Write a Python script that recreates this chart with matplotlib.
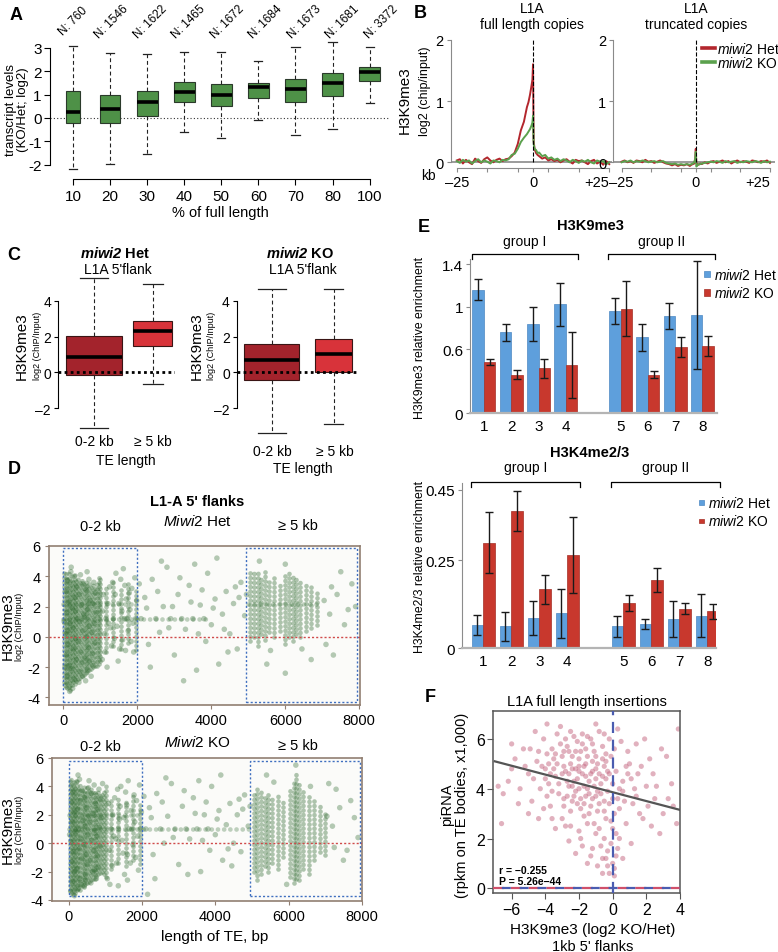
import numpy as np
import matplotlib
matplotlib.use("Agg")
import matplotlib.pyplot as plt
from matplotlib.lines import Line2D
from matplotlib.patches import Rectangle

plt.rcParams["font.family"] = ["Liberation Sans", "DejaVu Sans"]
plt.rcParams["mathtext.fontset"] = "custom"
plt.rcParams["mathtext.rm"] = "Liberation Sans"
plt.rcParams["mathtext.it"] = "Liberation Sans:italic"
plt.rcParams["mathtext.bf"] = "Liberation Sans:bold"
plt.rcParams["mathtext.bfit"] = "Liberation Sans:italic:bold"

# ---------------- data ----------------
# A: transcript levels by % of full length
a_len = ["10", "20", "30", "40", "50", "60", "70", "80", "100"]
a_n = [760, 1546, 1622, 1465, 1672, 1684, 1673, 1681, 3372]
a_whislo = [-2.2, -1.98, -1.54, -0.6, -0.87, -0.07, -0.72, -0.45, 0.65]
a_q1 = [-0.21, -0.2, 0.07, 0.67, 0.5, 0.86, 0.69, 0.94, 1.56]
a_med = [0.24, 0.38, 0.67, 1.13, 1.0, 1.32, 1.25, 1.5, 1.95]
a_q3 = [1.14, 1.0, 1.14, 1.55, 1.45, 1.5, 1.65, 1.92, 2.2]
a_whishi = [3.09, 2.78, 2.75, 2.83, 2.84, 2.42, 3.03, 3.27, 3.02]

# B: H3K9me3 profiles around L1A (kb)
b_kb = [-25, -24, -23, -22, -21, -20, -19, -18, -17, -16, -15, -14, -13, -12, -11, -10, -9, -8, -7, -6,
        -5, -4, -3, -2, -1.5, -1, -0.5, -0.2, 0, 0.2, 0.5, 1, 1.5, 2, 3, 4, 5,
        6, 7, 8, 9, 10, 11, 12, 13, 14, 15, 16, 17, 18, 19, 20, 21, 22, 23, 24, 25]
b_full_het = [0.03, 0.05, -0.02, 0.04, 0.00, -0.03, 0.06, 0.02, -0.01, 0.05, 0.08, 0.03, 0.00, 0.04, 0.06, 0.02, 0.05, 0.06, 0.10, 0.16,
              0.30, 0.52, 0.66, 0.90, 0.98, 1.10, 1.25, 1.35, 1.60, 0.35, 0.22, 0.15, 0.12, 0.10, 0.06, 0.08, 0.03,
              0.05, 0.02, 0.04, 0.00, 0.03, 0.05, 0.01, -0.02, 0.04, 0.02, 0.03, 0.00, -0.03, 0.02, 0.04, -0.02, 0.01, -0.04, 0.02, -0.03]
b_full_ko = [0.02, -0.01, 0.04, 0.01, 0.03, -0.02, 0.02, 0.05, 0.00, 0.03, 0.01, -0.02, 0.03, 0.02, 0.00, 0.04, 0.03, 0.05, 0.12, 0.14,
             0.22, 0.33, 0.40, 0.46, 0.50, 0.54, 0.60, 0.65, 0.76, 0.30, 0.22, 0.20, 0.15, 0.16, 0.10, 0.12, 0.06,
             0.08, 0.04, 0.06, 0.02, 0.05, 0.03, 0.00, 0.04, 0.02, -0.01, 0.03, 0.01, 0.04, 0.00, -0.02, 0.03, 0.01, 0.02, -0.03, 0.00]
b_trunc_het = [0.01, 0.03, 0.00, 0.02, -0.01, 0.03, 0.02, 0.00, 0.04, 0.01, 0.02, -0.01, 0.01, 0.03, 0.00, -0.02, -0.03, -0.05, -0.03, -0.06,
               -0.04, -0.05, -0.03, -0.06, -0.04, -0.03, -0.02, 0.05, 0.22, -0.02, -0.03, -0.04, -0.02, -0.03, 0.00, -0.02, 0.01,
               0.02, -0.01, 0.01, 0.03, 0.00, 0.02, -0.02, 0.01, 0.03, 0.00, 0.02, 0.01, -0.01, 0.03, 0.02, 0.00, 0.02, 0.01, 0.03, -0.01]
b_trunc_ko = [0.00, 0.02, 0.01, 0.03, 0.00, 0.02, 0.01, 0.03, 0.02, 0.00, 0.01, 0.02, 0.00, 0.01, 0.02, -0.01, -0.02, -0.03, -0.02, -0.04,
              -0.03, -0.04, -0.03, -0.04, -0.03, -0.02, 0.00, 0.06, 0.17, -0.07, -0.05, -0.03, -0.03, -0.02, -0.01, 0.00, 0.01,
              0.00, 0.02, 0.01, -0.01, 0.02, 0.00, 0.01, 0.02, -0.01, 0.01, 0.00, 0.02, 0.01, 0.00, 0.02, 0.01, -0.01, 0.02, 0.00, 0.01]

# C: H3K9me3 at L1A 5' flanks by TE length
c_groups = ["0-2 kb", "\u2265 5 kb"]
c_het = dict(whislo=[-3.1, -0.63], q1=[-0.15, 1.46], med=[0.87, 2.29], q3=[2.05, 2.9], whishi=[5.25, 4.93])
c_ko = dict(whislo=[-3.4, -2.87], q1=[-0.43, 0.0], med=[0.69, 1.0], q3=[1.58, 1.86], whishi=[4.65, 4.65])

# D: H3K9me3 vs TE length (kb); scattered points
d_het_pts = [
    (0.05, -3.2), (0.10, -2.6), (0.15, -1.9), (0.08, -1.2), (0.12, -0.5), (0.06, 0.2), (0.18, 0.9), (0.09, 1.6), (0.14, 2.3), (0.07, 3.0), (0.11, 3.7), (0.20, 4.3),
    (0.25, -3.4), (0.30, -2.8), (0.22, -2.1), (0.35, -1.5), (0.28, -0.8), (0.33, -0.1), (0.26, 0.6), (0.38, 1.2), (0.24, 1.9), (0.31, 2.6), (0.36, 3.3), (0.29, 4.0),
    (0.42, -3.0), (0.45, -2.3), (0.50, -1.7), (0.47, -1.0), (0.41, -0.3), (0.52, 0.4), (0.44, 1.0), (0.55, 1.5), (0.48, 2.1), (0.43, 2.8), (0.53, 3.5), (0.46, 4.1),
    (0.60, -2.9), (0.65, -2.2), (0.58, -1.4), (0.68, -0.7), (0.62, 0.0), (0.70, 0.7), (0.57, 1.3), (0.66, 1.8), (0.72, 2.4), (0.61, 3.1), (0.69, 3.8),
    (0.75, -2.6), (0.80, -1.9), (0.78, -1.1), (0.85, -0.4), (0.77, 0.3), (0.83, 0.9), (0.88, 1.6), (0.79, 2.2), (0.86, 2.9), (0.82, 3.6),
    (0.17, -3.6), (0.02, 1.0), (0.04, -2.0), (0.33, 1.7), (0.52, -2.6), (0.70, -1.6), (0.12, 0.4), (0.21, 4.6), (0.64, 4.3),
    (1.05, -1.5), (1.10, 0.2), (1.15, 1.2), (1.20, 2.2), (1.25, 3.3), (1.30, -0.6), (1.35, 1.2), (1.40, 2.8), (1.45, 0.7), (1.50, 2.2),
    (1.55, 3.8), (1.60, -0.2), (1.65, 1.2), (1.70, 2.5), (1.75, 0.4), (1.80, 1.8), (1.85, 3.2), (1.90, -1.0), (1.95, 1.2), (1.98, 2.4),
    (1.12, -1.0), (1.28, 0.6), (1.52, -0.8), (1.72, 1.2), (1.88, 0.9), (1.42, 4.2), (1.62, 4.5), (1.08, 2.8), (1.18, -2.0), (1.33, 3.6),
    (1.48, -1.6), (1.58, 1.7), (1.68, -0.9), (1.78, 2.9), (1.93, 3.9), (1.22, 0.9), (1.38, -0.1), (1.83, -0.3), (1.66, 3.4), (1.06, 1.7),
    (2.1, 1.2), (2.2, 2.6), (2.3, -0.5), (2.4, 3.8), (2.5, 1.2), (2.6, 0.3), (2.7, 2.0), (2.8, 4.6), (2.9, 1.2), (3.0, -1.2),
    (3.1, 2.8), (3.2, 1.2), (3.3, 0.5), (3.4, 3.4), (3.5, 1.2), (3.6, -2.2), (3.7, 2.1), (3.8, 1.2), (3.9, 4.2), (4.0, 0.8),
    (4.1, 2.5), (4.2, -1.8), (4.3, 1.5), (4.4, 3.0), (4.5, 0.2), (4.6, 2.2), (4.7, -0.8), (4.8, 3.6), (4.9, 1.4), (2.35, -2.0),
    (2.65, 5.0), (3.25, -2.9), (3.55, 4.8), (4.15, 5.2), (4.45, -1.0), (2.05, 3.5), (3.85, -0.3), (4.75, 2.6), (2.95, 2.0), (3.65, 0.2),
    (2.25, 1.9), (2.55, 3.0), (2.85, 0.6), (3.15, 3.9), (3.45, 2.3), (3.75, 3.1), (4.05, 1.9), (4.35, 0.5), (4.65, 3.3), (4.95, 2.8),
    (5.50, -1.8), (6.00, -2.4), (6.70, -1.5), (7.20, 1.5), (7.40, 2.8), (7.60, 0.8), (7.80, 3.5), (7.10, -0.5), (7.50, 4.3),
    (7.90, 2.0), (5.30, 5.0), (6.00, 4.8), (7.30, -1.2), (7.05, 2.4), (7.25, 3.3), (7.70, 1.8), (5.60, -0.9), (6.45, -0.8),
]
d_ko_pts = [
    (0.05, -3.4), (0.10, -2.7), (0.15, -2.0), (0.08, -1.3), (0.12, -0.6), (0.06, 0.1), (0.18, 0.8), (0.09, 1.5), (0.14, 2.2), (0.07, 2.9), (0.11, 3.6), (0.20, 4.3),
    (0.25, -3.2), (0.30, -2.5), (0.22, -1.8), (0.35, -1.1), (0.28, -0.4), (0.33, 0.3), (0.26, 1.0), (0.38, 1.6), (0.24, 2.4), (0.31, 3.0), (0.36, 3.7), (0.29, 4.5),
    (0.42, -3.0), (0.45, -2.2), (0.50, -1.5), (0.47, -0.8), (0.41, -0.1), (0.52, 0.6), (0.44, 1.2), (0.55, 1.9), (0.48, 2.5), (0.43, 3.2), (0.53, 3.9),
    (0.60, -2.8), (0.65, -2.0), (0.58, -1.2), (0.68, -0.5), (0.62, 0.2), (0.70, 0.9), (0.57, 1.5), (0.66, 2.1), (0.72, 2.8), (0.61, 3.5), (0.69, 4.1),
    (0.75, -2.5), (0.80, -1.7), (0.78, -0.9), (0.85, -0.2), (0.77, 0.5), (0.83, 1.1), (0.88, 1.8), (0.79, 2.4), (0.86, 3.1), (0.82, 3.8),
    (0.15, -3.7), (0.02, 0.6), (0.45, -2.6), (0.33, -2.9), (0.70, -1.9), (0.25, 4.8), (0.55, 4.4), (0.92, 4.2),
    (1.05, -2.5), (1.10, -0.5), (1.15, 1.0), (1.20, 2.0), (1.25, 3.2), (1.30, -1.4), (1.35, 1.0), (1.40, 2.6), (1.45, 0.2), (1.50, 1.8),
    (1.55, 3.6), (1.60, -0.8), (1.65, 1.0), (1.70, 2.3), (1.75, -0.1), (1.80, 1.5), (1.85, 3.0), (1.90, -1.9), (1.95, 1.0), (1.98, 2.2),
    (1.12, -2.9), (1.28, 0.3), (1.52, -2.2), (1.72, 1.0), (1.88, 0.5), (1.42, 4.0), (1.62, 4.4), (1.08, 2.8), (1.35, -3.0), (1.60, -2.6),
    (1.18, -1.6), (1.33, 3.8), (1.48, -0.7), (1.58, 2.7), (1.68, -1.4), (1.78, 3.4), (1.93, 4.1), (1.22, 0.5), (1.38, 1.7), (1.83, -1.0),
    (2.1, 1.0), (2.2, 2.5), (2.3, -0.8), (2.4, 3.5), (2.5, 1.0), (2.6, 0.0), (2.7, 1.9), (2.8, 4.2), (2.9, 1.0), (3.0, -1.5),
    (3.1, 2.6), (3.2, 1.0), (3.3, 0.3), (3.4, 3.2), (3.5, 1.0), (3.6, -2.0), (3.7, 2.0), (3.8, 1.0), (3.9, 4.0), (4.0, 0.6),
    (4.1, 2.3), (4.2, -1.2), (4.3, 1.3), (4.4, 2.8), (4.5, 0.0), (4.6, 2.0), (4.7, -0.6), (4.8, 3.4), (4.9, 1.2), (2.35, -2.5),
    (2.65, 4.6), (3.25, -2.2), (3.55, 4.4), (4.15, 4.8), (4.45, -1.6), (2.05, 3.3), (3.85, -0.5), (4.75, 2.4), (2.15, -3.6), (3.65, 0.2),
    (2.25, 1.8), (2.55, 2.9), (2.85, 0.4), (3.15, 3.7), (3.45, 2.1), (3.75, 2.9), (4.05, 1.7), (4.35, -0.4), (4.65, 3.1), (4.95, 2.6),
    (7.20, 1.2), (7.40, 2.5), (7.60, -0.5), (7.80, 1.8), (7.30, 3.8), (7.90, 0.4), (7.50, -1.2), (5.40, 4.8), (6.20, 5.5), (7.10, 4.2),
    (7.05, 1.9), (7.25, -0.3), (7.70, 3.0), (5.60, 4.3), (6.60, 4.0), (5.95, -2.9),
]
# dense vertical columns of points: (length kb, lowest y, highest y)
d_het_columns = [
    (0.02, -3.0, 4.2), (0.06, -3.3, 4.4), (0.10, -3.4, 4.0), (0.14, -3.3, 4.3), (0.18, -3.5, 3.9), (0.22, -3.2, 4.1),
    (0.26, -3.0, 3.8), (0.30, -3.1, 4.2), (0.35, -2.9, 3.7), (0.40, -2.8, 4.0), (0.45, -2.7, 3.6), (0.50, -2.6, 3.9),
    (0.55, -2.5, 3.5), (0.60, -2.4, 3.8), (0.65, -2.3, 3.4), (0.70, -2.2, 3.6), (0.75, -2.1, 3.3), (0.80, -2.0, 3.5),
    (0.85, -1.9, 3.2), (0.90, -1.9, 3.6), (0.95, -1.8, 4.0), (1.00, -1.6, 3.8),
    (1.15, -1.0, 3.4), (1.35, -0.6, 3.6), (1.55, -0.8, 3.2), (1.75, -0.4, 3.5), (1.95, -0.9, 3.0),
    (5.05, -0.3, 4.3), (5.15, 0.0, 4.5), (5.25, -0.6, 4.2), (5.35, 0.2, 4.0), (5.45, -0.2, 4.4), (5.55, 0.3, 3.8),
    (5.70, 0.0, 4.1), (5.85, 0.4, 3.6), (6.00, -0.5, 4.3), (6.10, 0.0, 4.5), (6.20, -0.3, 4.2), (6.30, 0.2, 4.0),
    (6.40, 0.0, 3.7), (6.55, 0.4, 3.5), (6.70, 0.6, 3.3), (6.85, 0.8, 3.0),
]
d_ko_columns = [
    (0.02, -3.3, 4.4), (0.06, -3.5, 4.6), (0.10, -3.6, 4.3), (0.14, -3.4, 4.5), (0.18, -3.5, 4.1), (0.22, -3.3, 4.4),
    (0.26, -3.2, 4.0), (0.30, -3.3, 4.2), (0.35, -3.0, 3.9), (0.40, -3.1, 4.1), (0.45, -2.9, 3.8), (0.50, -2.8, 4.0),
    (0.55, -2.7, 3.7), (0.60, -2.6, 3.9), (0.65, -2.5, 3.6), (0.70, -2.5, 3.8), (0.75, -2.3, 3.5), (0.80, -2.2, 3.7),
    (0.85, -2.1, 3.4), (0.90, -2.0, 3.6), (0.95, -2.2, 3.9), (1.00, -2.4, 4.1),
    (1.15, -1.8, 3.2), (1.35, -1.4, 3.4), (1.55, -1.6, 3.0), (1.75, -1.2, 3.3), (1.95, -1.5, 2.8),
    (5.05, -2.0, 3.6), (5.15, -2.6, 4.0), (5.25, -2.2, 3.8), (5.35, -1.6, 3.3), (5.45, -2.0, 3.6), (5.55, -1.4, 3.2),
    (5.70, -1.8, 3.4), (5.85, -1.0, 3.0), (6.05, -2.4, 3.8), (6.15, -2.8, 4.3), (6.20, -2.5, 5.0), (6.30, -2.6, 4.2),
    (6.40, -1.8, 3.8), (6.55, -2.2, 3.4), (6.70, -1.2, 3.0), (6.85, -0.6, 2.6), (7.00, -0.8, 2.2),
]
# horizontal rows of points: (y, first kb, last kb)
d_het_rows = [(1.2, 0.0, 4.0), (2.2, 0.0, 2.0), (2.2, 5.0, 7.0)]
d_ko_rows = [(1.0, 0.0, 5.0), (2.0, 0.0, 2.0)]
d_windows_kb = [(0.0, 2.0), (4.95, 7.95)]

# E: ChIP-qPCR relative enrichment
e_sites = ["1", "2", "3", "4", "5", "6", "7", "8"]
e_groups = [("group I", ["1", "2", "3", "4"]), ("group II", ["5", "6", "7", "8"])]
e_k9_het = [1.16, 0.76, 0.84, 1.02, 0.96, 0.71, 0.91, 0.92]
e_k9_het_err = [0.10, 0.08, 0.16, 0.20, 0.12, 0.13, 0.125, 0.51]
e_k9_ko = [0.48, 0.36, 0.42, 0.45, 0.98, 0.36, 0.62, 0.63]
e_k9_ko_err = [0.03, 0.04, 0.09, 0.31, 0.26, 0.03, 0.09, 0.09]
e_k4_het = [0.066, 0.062, 0.086, 0.099, 0.062, 0.069, 0.083, 0.093]
e_k4_het_err = [0.028, 0.04, 0.047, 0.069, 0.029, 0.013, 0.05, 0.06]
e_k4_ko = [0.30, 0.39, 0.167, 0.265, 0.129, 0.194, 0.112, 0.105]
e_k4_ko_err = [0.087, 0.057, 0.04, 0.108, 0.022, 0.034, 0.016, 0.022]

# F: piRNA vs H3K9me3 change, L1A full length insertions
f_pts = [
    (-4.0, 4.8), (-3.5, 5.2), (-3.0, 4.6), (-2.5, 5.0), (-2.0, 4.7), (-1.5, 5.3), (-1.0, 4.4), (-0.5, 4.9), (0.0, 4.2), (-3.8, 4.2),
    (-3.2, 3.8), (-2.7, 4.3), (-2.2, 3.9), (-1.7, 4.1), (-1.2, 3.6), (-0.7, 3.8), (-0.2, 3.4), (-3.6, 5.6), (-3.1, 5.8), (-2.6, 5.5),
    (-2.1, 5.9), (-1.6, 5.6), (-1.1, 5.5), (-0.6, 5.7), (-0.1, 5.3), (-4.5, 5.1), (-4.3, 4.0), (-2.9, 3.3), (-2.4, 3.5), (-1.9, 3.2),
    (-1.4, 3.0), (-0.9, 3.1), (-0.4, 2.8), (0.1, 3.0), (-2.3, 6.1), (-1.8, 6.2), (-1.3, 6.0), (-0.8, 6.3), (-3.3, 6.2), (-2.8, 6.0),
    (-5.0, 4.6), (-5.3, 5.6), (-4.8, 3.5), (-5.5, 4.0), (-6.2, 4.3), (-6.5, 3.8), (-5.8, 5.2), (-4.1, 6.0), (-3.7, 3.3), (-3.0, 2.8),
    (-2.5, 2.5), (-2.0, 2.3), (-1.5, 2.6), (-1.0, 2.2), (-0.5, 2.0), (0.0, 2.4), (0.3, 3.6), (0.6, 4.3), (1.0, 5.0), (1.5, 4.6),
    (2.0, 4.1), (2.5, 3.6), (3.0, 3.0), (3.5, 4.2), (1.2, 3.4), (1.8, 2.8), (0.8, 2.6), (2.2, 5.2), (1.4, 5.8), (0.5, 5.9),
    (3.2, 5.3), (3.8, 2.6), (3.9, 6.4), (2.8, 2.2), (-0.3, 1.5), (0.0, 1.0), (-0.2, 0.6), (0.2, 1.3), (-0.6, 1.2), (-1.2, 1.6),
    (-1.8, 1.7), (-0.9, 0.9), (0.1, 0.5), (-0.1, 1.8), (0.4, 2.0), (-2.6, 1.9), (-3.4, 2.4), (-4.4, 2.8), (-5.0, 3.0), (-6.6, 2.6),
    (-6.0, 5.8), (-4.6, 6.3), (-3.9, 6.6), (-1.0, 6.6), (0.3, 6.4), (1.9, 6.0), (-2.1, 4.4), (-1.7, 4.9), (-1.3, 4.6), (-2.9, 4.9),
    (-3.4, 4.5), (-0.9, 5.0), (-0.4, 4.4), (0.2, 4.7), (-1.6, 3.7), (-2.4, 4.1), (-1.1, 4.1), (-0.3, 3.9), (-3.9, 5.4), (-2.4, 5.3),
    (-1.9, 5.5), (-0.2, 6.0), (0.7, 3.5), (1.3, 4.0), (2.4, 4.6), (2.9, 5.6), (1.1, 1.8), (0.6, 1.2), (-1.5, 1.0), (-0.6, 0.6),
    (-2.2, 4.8), (-1.4, 4.3), (-2.7, 3.7), (-1.9, 3.6), (-0.8, 4.6), (-3.3, 5.0), (-2.6, 4.6), (-1.2, 5.1), (-0.5, 3.5), (-4.2, 4.9),
    (-2.0, 5.2), (-1.6, 4.5), (-0.7, 4.2), (-2.3, 4.3), (-3.7, 4.6), (-1.0, 3.7), (0.4, 4.0), (0.9, 4.6), (-0.4, 5.4), (-2.9, 5.5),
    (-3.0, 5.3), (-2.8, 4.7), (-2.6, 4.1), (-2.4, 4.8), (-2.2, 5.5), (-2.0, 4.0), (-1.8, 4.6), (-1.6, 5.0), (-1.4, 3.8), (-1.2, 4.7),
    (-1.0, 5.3), (-0.8, 3.4), (-0.6, 4.5), (-0.4, 5.1), (-0.2, 4.6), (0.0, 3.6), (-3.2, 4.2), (-3.6, 3.9), (-4.0, 4.4), (-3.8, 5.0),
    (-3.4, 5.4), (-2.9, 3.6), (-2.5, 3.1), (-2.1, 3.4), (-1.7, 2.9), (-1.3, 3.3), (-0.9, 3.9), (-0.5, 3.1), (-0.1, 2.7), (0.2, 2.2),
    (0.4, 3.2), (0.6, 3.9), (0.8, 4.9), (1.1, 4.4), (1.4, 3.7), (1.7, 4.9), (2.1, 3.3), (2.6, 4.1), (3.3, 3.6), (-4.7, 4.4),
    (-5.2, 4.9), (-5.6, 3.4), (-6.0, 4.8), (-6.8, 4.1), (-4.9, 5.6), (-4.4, 5.5), (-3.1, 6.5), (-2.5, 6.3), (-1.5, 6.1), (-0.5, 6.2),
    (0.1, 5.6), (-2.8, 2.5), (-1.9, 2.0), (-1.1, 2.6), (-0.7, 1.7), (-0.4, 1.2), (0.1, 0.8), (-0.3, 0.9), (0.3, 1.6), (-1.3, 1.3),
    (-2.2, 1.4), (-0.8, 2.4), (-3.6, 2.8), (-4.1, 3.2), (-1.8, 5.8), (-2.7, 5.7), (-3.5, 4.8), (-1.0, 4.8), (-2.3, 3.7), (-1.5, 4.0),
    (-0.6, 5.2), (-3.9, 3.7), (1.6, 3.0), (2.3, 2.5), (3.6, 3.3), (0.9, 5.5), (-1.7, 3.4), (-2.0, 4.9), (-1.2, 5.8), (-0.3, 4.7),
]
f_fit_x = [-7.0, 4.0]
f_fit_y = [5.1, 3.15]
f_r, f_p = "\u22120.255", "5.26e\u221244"

# ---------------- layout helpers ----------------
W, H = 778, 953
fig = plt.figure(figsize=(W / 100, H / 100), dpi=100)


def px_axes(l, t, r, b):
    return fig.add_axes([l / W, 1 - b / H, (r - l) / W, (b - t) / H])


def ftext(x, y, s, **kw):
    kw.setdefault("ha", "center")
    kw.setdefault("va", "center")
    return fig.text(x / W, 1 - y / H, s, **kw)


def box_stats(d):
    keys = ["whislo", "q1", "med", "q3", "whishi"]
    return [dict({k: d[k][i] for k in keys}, fliers=[]) for i in range(len(d["med"]))]


for letter, x, y in [("A", 16, 15), ("B", 420, 14), ("C", 14, 255), ("D", 14, 470), ("E", 424, 227), ("F", 430, 698)]:
    ftext(x, y, letter, fontsize=13, fontweight="bold")

# ---------------- A ----------------
axA = px_axes(50, 41.8, 390, 179.8)
a_pos = np.arange(1, len(a_len) + 1)
a_stats = [dict(whislo=lo, q1=q1, med=m, q3=q3, whishi=hi, fliers=[])
           for lo, q1, m, q3, hi in zip(a_whislo, a_q1, a_med, a_q3, a_whishi)]
axA.bxp(a_stats, positions=a_pos, widths=[0.4] + [0.56] * 8, capwidths=0.22,
        patch_artist=True, showfliers=False,
        boxprops=dict(facecolor="#4e9147", edgecolor="#2b3a2b", linewidth=0.8),
        medianprops=dict(color="black", linewidth=2.6),
        whiskerprops=dict(color="#222222", linewidth=0.8, linestyle=(0, (3.5, 2.5))),
        capprops=dict(color="#222222", linewidth=0.9))
axA.axhline(0, color="#333333", lw=0.8, ls=(0, (1, 2)), zorder=0)
axA.set_xlim(0.38, 9.55)
axA.set_ylim(-2.6, 3.3)
axA.spines[["top", "right"]].set_visible(False)
axA.spines["left"].set_bounds(-2, 3)
axA.spines["bottom"].set_bounds(1, 9)
axA.set_xticks(a_pos, a_len)
axA.set_yticks(range(-2, 4), ["-2", "-1", "0", "1", "2", "3"])
axA.tick_params(labelsize=11, length=4, width=0.8)
axA.tick_params(axis="y", pad=2)
for i, (p, n) in enumerate(zip(a_pos, a_n)):
    axA.text(p + 0.04 * i, 4.15, f"N: {n}", rotation=45, ha="center", va="center",
             fontsize=8.5, clip_on=False)
ftext(17, 110, "transcript levels\n(KO/Het; log2)", rotation=90, fontsize=9.5, linespacing=1.05)
ftext(220, 213, "% of full length", fontsize=10.5)

# ---------------- B ----------------
b_red, b_green = "#b3262d", "#5ba14d"
b_specs = [((450.7, 34.6, 612, 169.3), (-27, 25.9), b_full_het, b_full_ko, 532, "full length copies"),
           ((613.3, 34.6, 775, 169.3), (-27.8, 26.7), b_trunc_het, b_trunc_ko, 696, "truncated copies")]
for rect, xl, het, ko, cx, ttl in b_specs:
    ax = px_axes(*rect)
    ax.axhline(0, color="#8a8a8a", lw=1.2, zorder=1)
    ax.plot(b_kb, het, color=b_red, lw=1.4, zorder=2)
    ax.plot(b_kb, ko, color=b_green, lw=1.4, zorder=3)
    ax.plot([0, 0], [0, 2], color="black", ls="--", lw=0.8, zorder=4)
    ax.set_xlim(*xl)
    ax.set_ylim(-0.098, 2.1)
    ax.spines[["top", "right"]].set_visible(False)
    for s in ["left", "bottom"]:
        ax.spines[s].set_color("#8a8a8a")
    ax.spines["left"].set_bounds(0, 2)
    ax.spines["bottom"].set_bounds(-25, 25)
    ax.set_yticks([0, 1, 2])
    ax.set_xticks([-25, -15, -5, 0, 5, 15, 25], ["\u201325", "", "", "0", "", "", "+25"])
    ax.tick_params(labelsize=10.5, length=3, color="#8a8a8a", pad=2)
    ax.get_xticklabels()[-1].set_ha("right")
    ftext(cx, 9, "L1A", fontsize=10)
    ftext(cx, 25, ttl, fontsize=10)
ftext(405, 100, "H3K9me3", rotation=90, fontsize=11)
ftext(425, 91, "log2 (chip/input)", rotation=90, fontsize=9)
ftext(428, 176, "kb", fontsize=10)
for yy, col, lab in [(49, b_red, r"$\it{miwi2}$ Het"), (63, b_green, r"$\it{miwi2}$ KO")]:
    fig.add_artist(Line2D([702 / W, 715 / W], [1 - yy / H] * 2, color=col, lw=2.6))
    ftext(717, yy, lab, ha="left", fontsize=10)

# ---------------- C ----------------
c_dark, c_bright = "#a3232c", "#d8333a"
c_specs = [((58, 275, 175, 436), (0.387, 2.38), (-3.5, 5.5), c_het, [0.96, 0.67], "Het", 115, 22, 94, 126, 442, 461, 59),
           ((236.7, 275, 357, 437.7), (0.434, 2.38), (-3.6, 5.5), c_ko, [0.895, 0.59], "KO", 300, 197, 272, 303, 452, 469.5, 63)]
for rect, xl, yl, stats, wd, geno, tx, lx, gx, tlx, gy, tly, gdx in c_specs:
    ax = px_axes(*rect)
    bp = ax.bxp(box_stats(stats), positions=[1, 2], widths=wd, capwidths=[w * 0.5 for w in wd],
                patch_artist=True, showfliers=False,
                boxprops=dict(edgecolor="#3a1515", linewidth=0.8),
                medianprops=dict(color="black", linewidth=2.6),
                whiskerprops=dict(color="#222222", linewidth=0.8, linestyle=(0, (3.5, 2.5))),
                capprops=dict(color="#222222", linewidth=0.9))
    for patch, col in zip(bp["boxes"], [c_dark, c_bright]):
        patch.set_facecolor(col)
    ax.axhline(0, color="black", lw=2.0, ls=(0, (1, 1.2)), zorder=5)
    ax.set_xlim(*xl)
    ax.set_ylim(*yl)
    ax.spines[["top", "right", "bottom"]].set_visible(False)
    ax.spines["left"].set_bounds(-2, 4)
    ax.set_yticks([-2, 0, 2, 4], ["\u20132", "0", "2", "4"])
    ax.set_xticks([])
    ax.tick_params(labelsize=10, length=3, pad=2)
    ftext(tx, 253, r"$\mathbfit{miwi2}$ " + geno, fontsize=10.5, fontweight="bold")
    ftext(tx + 3, 270, "L1A 5'flank", fontsize=10)
    ftext(lx, 346, "H3K9me3", rotation=90, fontsize=11)
    ftext(lx + 15, 346, "log2 (ChIP/Input)", rotation=90, fontsize=6.5)
    for i, g in enumerate(c_groups):
        ftext(gx + i * gdx, gy, g, fontsize=10)
    ftext(tlx, tly, "TE length", fontsize=10)

# ---------------- D ----------------
d_green = "#2f6a30"
d_specs = [((49, 547, 360, 706), (-390, 8020), (-4.5, 6), d_het_pts, d_het_columns, d_het_rows, (-4.3, 5.9), "Het", 522, 527),
           ((51.7, 759, 361.7, 901.7), (-470, 7990), (-4.05, 6), d_ko_pts, d_ko_columns, d_ko_rows, (-3.75, 5.8), "KO", 743, 747)]
for rect, xl, yl, pts, cols, rows, (wy0, wy1), geno, gy, ky in d_specs:
    ax = px_axes(*rect)
    ax.set_facecolor("#fbfbf9")
    lc = ax.vlines([c[0] * 1000 for c in cols], [c[1] for c in cols], [c[2] for c in cols],
                   color=d_green, alpha=0.38, lw=3.4, linestyles=[(0, (0.01, 0.95))], zorder=2)
    lc.set_capstyle("round")
    lr = ax.hlines([r[0] for r in rows], [r[1] * 1000 for r in rows], [r[2] * 1000 for r in rows],
                   color=d_green, alpha=0.3, lw=3.4, linestyles=[(0, (0.01, 1.3))], zorder=2)
    lr.set_capstyle("round")
    ax.scatter([p[0] * 1000 for p in pts], [p[1] for p in pts], s=16, color=d_green, alpha=0.35,
               edgecolors="none", zorder=2)
    ax.axhline(0, color="#d04a4a", lw=1.0, ls=(0, (1.5, 1.5)), zorder=3)
    for x0, x1 in d_windows_kb:
        ax.add_patch(Rectangle((x0 * 1000, wy0), (x1 - x0) * 1000, wy1 - wy0, fill=False,
                               edgecolor="#3f6fc0", lw=1.0, ls=(0, (1.5, 1.5)), zorder=4))
    ax.set_xlim(*xl)
    ax.set_ylim(*yl)
    for s in ax.spines.values():
        s.set_color("#917f72")
        s.set_linewidth(1.2)
    ax.set_xticks([0, 2000, 4000, 6000, 8000])
    ax.set_yticks([-4, -2, 0, 2, 4, 6], ["-4", "-2", "0", "2", "4", "6"])
    ax.tick_params(labelsize=10.5, length=3, color="#917f72", pad=3)
    ftext(197, gy, r"$\it{Miwi2}$ " + geno, fontsize=11)
    ftext(100, ky, "0-2 kb", fontsize=10.5)
    ftext(298, ky - 1, "\u2265 5 kb", fontsize=10.5)
    cy = (rect[1] + rect[3]) / 2
    ftext(8, cy, "H3K9me3", rotation=90, fontsize=11)
    ftext(20, cy, "log2 (ChIP/Input)", rotation=90, fontsize=6.5)
ftext(197, 502, "L1-A 5' flanks", fontsize=10.5, fontweight="bold")
ftext(215, 937, "length of TE, bp", fontsize=11)

# ---------------- E ----------------
e_blue, e_red = "#5e9fdc", "#c8382d"
e_pos = {s: p for s, p in zip(e_sites, [1, 2, 3, 4, 6, 7, 8, 9])}
e_specs = [((470, 259.7, 716.7, 414), (0.49, 9.52), (0, 1.45), [0, 0.6, 1, 1.4], ["0", "0.6", "1", "1.4"],
            e_k9_het, e_k9_het_err, e_k9_ko, e_k9_ko_err, "H3K9me3", 226, 1.495, 1.62,
            "H3K9me3 relative enrichment", 338, (707, 275, 6.5)),
           ((461.7, 483.7, 716, 649.3), (0.23, 9.31), (0, 0.47), [0, 0.25, 0.45], ["0", "0.25", "0.45"],
            e_k4_het, e_k4_het_err, e_k4_ko, e_k4_ko_err, "H3K4me2/3", 453, 0.473, 0.514,
            "H3K4me2/3 relative enrichment", 567, (701.5, 503.3, 4.5))]
for (rect, xl, yl, yt, ytl, het, het_e, ko, ko_e, ttl, ty, by, gly, ylab, ly, leg) in e_specs:
    ax = px_axes(*rect)
    xp = np.array([e_pos[s] for s in e_sites], dtype=float)
    w = 0.42
    ax.bar(xp - w / 2, het, w, color=e_blue, edgecolor="#4d88c2", lw=0.5, zorder=2)
    ax.bar(xp + w / 2, ko, w, color=e_red, edgecolor="#a52e25", lw=0.5, zorder=2)
    ax.errorbar(xp - w / 2, het, yerr=het_e, fmt="none", ecolor="#1a1a1a", elinewidth=1, capsize=3, capthick=1, zorder=3)
    ax.errorbar(xp + w / 2, ko, yerr=ko_e, fmt="none", ecolor="#1a1a1a", elinewidth=1, capsize=3, capthick=1, zorder=3)
    ax.set_xlim(*xl)
    ax.set_ylim(*yl)
    ax.spines[["top", "right"]].set_visible(False)
    ax.spines["left"].set_color("#8c8c8c")
    ax.spines["bottom"].set_color("#b4b4b4")
    ax.spines["bottom"].set_linewidth(1.6)
    ax.set_yticks(yt, ytl)
    ax.set_xticks(xp, e_sites)
    ax.tick_params(axis="y", labelsize=11, length=3, color="#8c8c8c", pad=2)
    ax.tick_params(axis="x", labelsize=11, length=0, pad=4)
    tick = (yl[1] - yl[0]) * 0.03
    for gname, members in e_groups:
        x0 = e_pos[members[0]] - 0.45
        x1 = e_pos[members[-1]] + 0.45
        ax.plot([x0, x0, x1, x1], [by - tick, by, by, by - tick], color="black", lw=0.9, clip_on=False)
        ax.text((x0 + x1) / 2, gly, gname, ha="center", va="center", fontsize=10, clip_on=False)
    ftext(590, ty, ttl, fontsize=10.5, fontweight="bold")
    ftext(420, ly, ylab, rotation=90, fontsize=8.8)
    lx, ly0, sz = leg
    for k, (col, ec, lab) in enumerate([(e_blue, "#4d88c2", r"$\it{miwi2}$ Het"), (e_red, "#a52e25", r"$\it{miwi2}$ KO")]):
        yy = ly0 + k * 18.5
        fig.add_artist(Rectangle(((lx - sz / 2) / W, 1 - (yy + sz / 2) / H), sz / W, sz / H,
                                 facecolor=col, edgecolor=ec, lw=0.5, transform=fig.transFigure))
        ftext(lx + sz / 2 + 4, yy, lab, ha="left", fontsize=10)

# ---------------- F ----------------
axF = px_axes(493.3, 712.3, 680, 894.3)
axF.scatter([p[0] for p in f_pts], [p[1] for p in f_pts], s=14, color="#c4647f", alpha=0.5,
            edgecolors="none", zorder=2)
axF.plot(f_fit_x, f_fit_y, color="#555555", lw=1.6, zorder=3)
axF.axvline(0, color="#4a5cb0", lw=1.6, ls=(0, (5, 3)), zorder=4)
axF.axhline(0, color="#d0506a", lw=1.6, ls=(0, (5, 3)), zorder=4)
axF.axhline(0, color="#4a5cb0", lw=1.6, ls=(4, (4, 4)), zorder=4)
axF.text(-6.75, 0.75, f"r = {f_r}", fontsize=7.5, fontweight="bold", va="center", zorder=5)
axF.text(-6.75, 0.31, f"P = {f_p}", fontsize=7.5, fontweight="bold", va="center", zorder=5)
axF.set_xlim(-7.09, 4)
axF.set_ylim(-0.2, 7.11)
for s in axF.spines.values():
    s.set_color("#555555")
    s.set_linewidth(1.1)
axF.set_xticks([-6, -4, -2, 0, 2, 4], ["\u22126", "\u22124", "\u22122", "0", "2", "4"])
axF.set_yticks([0, 2, 4, 6])
axF.tick_params(labelsize=11.5, length=4, color="#555555", pad=2)
ftext(587, 702, "L1A full length insertions", fontsize=10.5)
ftext(447, 805, "piRNA", rotation=90, fontsize=10.5)
ftext(462, 805, "(rpkm on TE bodies, x1,000)", rotation=90, fontsize=10.5)
ftext(593, 930, "H3K9me3 (log2 KO/Het)", fontsize=11)
ftext(593, 947, "1kb 5' flanks", fontsize=10.5)

fig.savefig("out.png", dpi=100)
